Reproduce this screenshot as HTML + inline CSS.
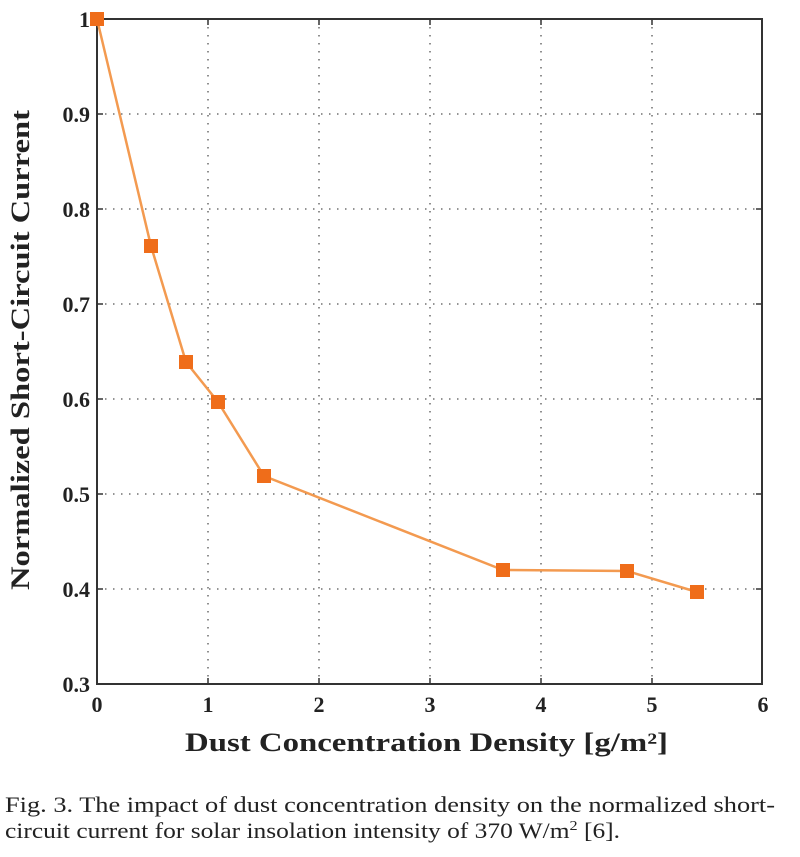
<!DOCTYPE html>
<html><head><style>
body{margin:0;background:#fff;width:800px;height:852px;overflow:hidden}
svg text{font-family:"Liberation Serif",serif}
</style></head><body>
<svg width="800" height="852" viewBox="0 0 800 852" xmlns="http://www.w3.org/2000/svg">
<g stroke="#555" stroke-width="1.3" stroke-dasharray="1.5,6.5">
<line x1="208" y1="19" x2="208" y2="684"/><line x1="319" y1="19" x2="319" y2="684"/>
<line x1="430" y1="19" x2="430" y2="684"/><line x1="541" y1="19" x2="541" y2="684"/>
<line x1="652" y1="19" x2="652" y2="684"/>
<line x1="97" y1="114" x2="762" y2="114"/><line x1="97" y1="209" x2="762" y2="209"/>
<line x1="97" y1="304" x2="762" y2="304"/><line x1="97" y1="399" x2="762" y2="399"/>
<line x1="97" y1="494" x2="762" y2="494"/><line x1="97" y1="589" x2="762" y2="589"/>
</g>
<rect x="97" y="19" width="665" height="665" fill="none" stroke="#333" stroke-width="2"/>
<g stroke="#333" stroke-width="1.5">
<line x1="208" y1="684" x2="208" y2="678"/><line x1="319" y1="684" x2="319" y2="678"/><line x1="430" y1="684" x2="430" y2="678"/><line x1="541" y1="684" x2="541" y2="678"/><line x1="652" y1="684" x2="652" y2="678"/>
<line x1="208" y1="19" x2="208" y2="25"/><line x1="319" y1="19" x2="319" y2="25"/><line x1="430" y1="19" x2="430" y2="25"/><line x1="541" y1="19" x2="541" y2="25"/><line x1="652" y1="19" x2="652" y2="25"/>
<line x1="97" y1="114" x2="103" y2="114"/><line x1="97" y1="209" x2="103" y2="209"/><line x1="97" y1="304" x2="103" y2="304"/><line x1="97" y1="399" x2="103" y2="399"/><line x1="97" y1="494" x2="103" y2="494"/><line x1="97" y1="589" x2="103" y2="589"/>
<line x1="762" y1="114" x2="756" y2="114"/><line x1="762" y1="209" x2="756" y2="209"/><line x1="762" y1="304" x2="756" y2="304"/><line x1="762" y1="399" x2="756" y2="399"/><line x1="762" y1="494" x2="756" y2="494"/><line x1="762" y1="589" x2="756" y2="589"/>
</g>
<polyline points="97,19 151,246 186,362 218,402 264,476 503,570 627,571 697,592" fill="none" stroke="#f39a50" stroke-width="2.5"/>
<g fill="#ef6d1a">
<rect x="90" y="12" width="14" height="14"/><rect x="144" y="239" width="14" height="14"/><rect x="179" y="355" width="14" height="14"/><rect x="211" y="395" width="14" height="14"/><rect x="257" y="469" width="14" height="14"/><rect x="496" y="563" width="14" height="14"/><rect x="620" y="564" width="14" height="14"/><rect x="690" y="585" width="14" height="14"/>
</g>
<g font-size="22" font-weight="bold" fill="#222" text-anchor="end">
<text x="90" y="27">1</text><text x="90" y="122">0.9</text><text x="90" y="217">0.8</text><text x="90" y="312">0.7</text><text x="90" y="407">0.6</text><text x="90" y="502">0.5</text><text x="90" y="597">0.4</text><text x="90" y="692">0.3</text>
</g>
<g font-size="22" font-weight="bold" fill="#222" text-anchor="middle">
<text x="97" y="712">0</text><text x="208" y="712">1</text><text x="319" y="712">2</text><text x="430" y="712">3</text><text x="541" y="712">4</text><text x="652" y="712">5</text><text x="763" y="712">6</text>
</g>
<g font-size="26" font-weight="bold" fill="#222">
<text x="185" y="751" textLength="483" lengthAdjust="spacingAndGlyphs">Dust Concentration Density [g/m²]</text>
<text transform="translate(29,590) rotate(-90)" textLength="480" lengthAdjust="spacingAndGlyphs">Normalized Short-Circuit Current</text>
</g>
<g font-size="22" fill="#222">
<text x="5" y="812" textLength="770" lengthAdjust="spacingAndGlyphs">Fig. 3.    The impact of dust concentration density on the normalized short-</text>
<text x="5" y="838" textLength="615" lengthAdjust="spacingAndGlyphs">circuit current for solar insolation intensity of 370 W/m<tspan font-size="14" dy="-8">2</tspan><tspan dy="8"> [6].</tspan></text>
</g>
</svg>
</body></html>
